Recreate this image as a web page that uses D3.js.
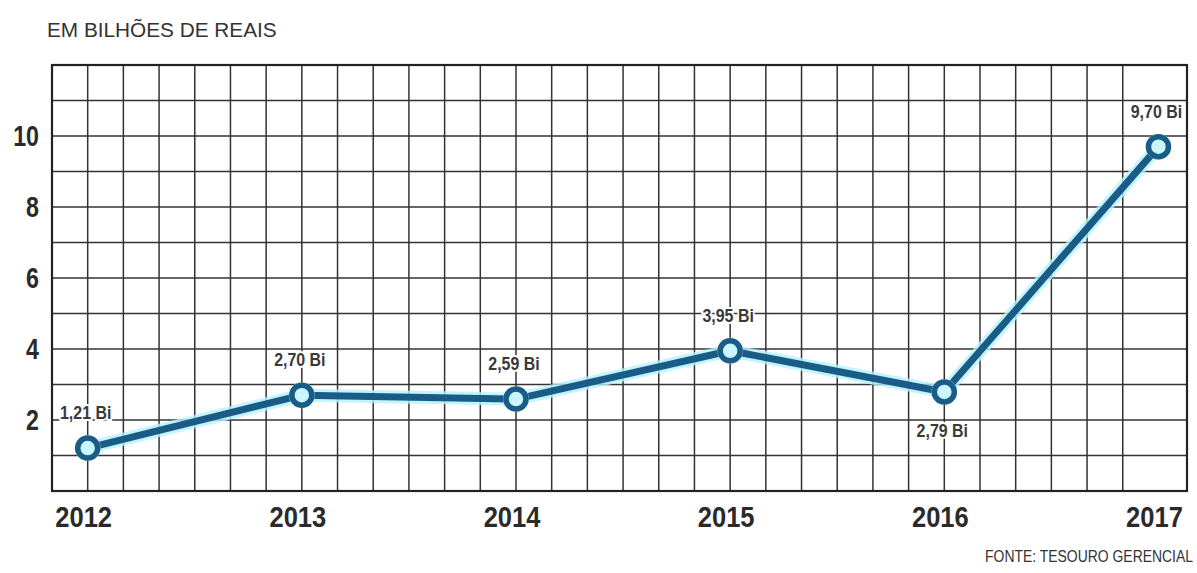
<!DOCTYPE html>
<html>
<head>
<meta charset="utf-8">
<script src="https://cdn.jsdelivr.net/npm/d3@7"></script>
<style>
  html, body { margin: 0; padding: 0; background: #fff; }
  svg { display: block; }
  text { font-family: "Liberation Sans", Arial, sans-serif; }
</style>
</head>
<body>
<svg id="chart" width="1197" height="573"></svg>
<script>
const years = [2012, 2013, 2014, 2015, 2016, 2017];
const values = [1.21, 2.70, 2.59, 3.95, 2.79, 9.70];
const valueLabels = ["1,21 Bi", "2,70 Bi", "2,59 Bi", "3,95 Bi", "2,79 Bi", "9,70 Bi"];
const labelBelow = [false, false, false, false, true, false];
const yTicks = [2, 4, 6, 8, 10];
const title = "EM BILHÕES DE REAIS";
const source = "FONTE: TESOURO GERENCIAL";

const svg = d3.select("#chart");
const plotLeft = 52, plotRight = 1187, plotTop = 65, plotBottom = 491;

const x = d3.scaleLinear().domain([2012 - 1/6, 2017 + 0.1333]).range([plotLeft, plotRight]);
const y = d3.scaleLinear().domain([0, 12]).range([plotBottom, plotTop]);

// condensed text helper
function ctext(g, tx, ty, sx) {
  return g.attr("x", 0).attr("y", 0)
    .attr("transform", `translate(${tx},${ty}) scale(${sx},1)`);
}

// grid
const gx = d3.range(1, 31).map(i => 2012 - 1/6 + i / 6);
const gy = d3.range(1, 12);

svg.append("g").selectAll("line").data(gx).join("line")
  .attr("x1", d => x(d)).attr("x2", d => x(d))
  .attr("y1", plotTop).attr("y2", plotBottom)
  .attr("stroke", "#333").attr("stroke-width", 1.5);
svg.append("g").selectAll("line").data(gy).join("line")
  .attr("x1", plotLeft).attr("x2", plotRight)
  .attr("y1", d => y(d)).attr("y2", d => y(d))
  .attr("stroke", "#333").attr("stroke-width", 1.5);

// border
svg.append("rect").attr("x", plotLeft).attr("y", plotTop)
  .attr("width", plotRight - plotLeft).attr("height", plotBottom - plotTop)
  .attr("fill", "none").attr("stroke", "#222").attr("stroke-width", 2.2);

// title
ctext(svg.append("text"), 47, 37, 0.99)
  .attr("font-size", 21).attr("fill", "#333").text(title);

// y tick labels
svg.append("g").selectAll("text").data(yTicks).join("text")
  .each(function(d) { ctext(d3.select(this), 39, y(d) + 10, 0.8); })
  .attr("text-anchor", "end").attr("font-size", 29).attr("font-weight", "bold")
  .attr("fill", "#2a2a2a").text(d => d);

// x labels
svg.append("g").selectAll("text").data(years).join("text")
  .each(function(d) { ctext(d3.select(this), x(d) - 4, 527, 0.85); })
  .attr("text-anchor", "middle").attr("font-size", 30).attr("font-weight", "bold")
  .attr("fill", "#2a2a2a").text(d => d);

// source
ctext(svg.append("text"), 1193, 562, 0.82)
  .attr("text-anchor", "end").attr("font-size", 17).attr("fill", "#333").text(source);

const data = years.map((yr, i) => ({ yr, v: values[i], lab: valueLabels[i], below: labelBelow[i] }));
const line = d3.line().x(d => x(d.yr)).y(d => y(d.v));

// glow
svg.append("path").datum(data).attr("d", line)
  .attr("fill", "none").attr("stroke", "#b4f2ff").attr("stroke-width", 13)
  .attr("stroke-linejoin", "round").attr("opacity", 0.8);
svg.append("path").datum(data).attr("d", line)
  .attr("fill", "none").attr("stroke", "#1a5c86").attr("stroke-width", 7)
  .attr("stroke-linejoin", "round");

svg.append("g").selectAll("circle").data(data).join("circle")
  .attr("cx", d => x(d.yr)).attr("cy", d => y(d.v)).attr("r", 13)
  .attr("fill", "#b4f2ff").attr("opacity", 0.8);
svg.append("g").selectAll("circle").data(data).join("circle")
  .attr("cx", d => x(d.yr)).attr("cy", d => y(d.v)).attr("r", 10)
  .attr("fill", "#c9f6ff").attr("stroke", "#1a5c86").attr("stroke-width", 5.5);

// value labels
svg.append("g").selectAll("text").data(data).join("text")
  .each(function(d) { ctext(d3.select(this), x(d.yr) - 2, d.below ? y(d.v) + 45 : y(d.v) - 29, 0.84); })
  .attr("text-anchor", "middle").attr("font-size", 19).attr("font-weight", "bold")
  .attr("fill", "#3a3a3a")
  .attr("stroke", "#fff").attr("stroke-width", 4).attr("paint-order", "stroke")
  .text(d => d.lab);
</script>
</body>
</html>
